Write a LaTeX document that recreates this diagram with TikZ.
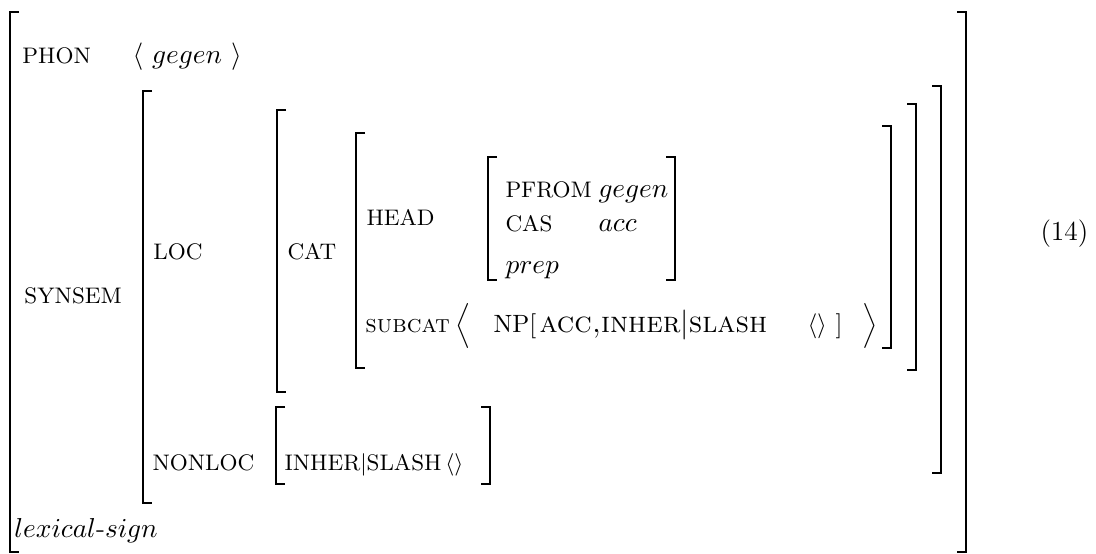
\documentclass[tikz,border=0pt]{standalone}
\usepackage{fontspec}
\begin{document}
\begin{tikzpicture}[x=0.4pt,y=-0.4pt,
  brk/.style={line width=0.8pt},
  lbl/.style={inner sep=0pt,anchor=base west},
  feat/.style={lbl,font=\fontsize{9}{11}\selectfont},
  val/.style={lbl,font=\fontsize{10.8}{13}\selectfont}]
\useasboundingbox (0,0) rectangle (1096,554);
\newcommand{\lbr}[3]{\draw[brk] (#1+9,#2) -- (#1,#2) -- (#1,#3) -- (#1+9,#3);}
\newcommand{\rbr}[3]{\draw[brk] (#1-9,#2) -- (#1,#2) -- (#1,#3) -- (#1-9,#3);}
% outer
\lbr{10}{12}{552}
\rbr{966}{12}{552}
% synsem value
\lbr{143}{91}{503}
\rbr{941}{86}{473}
% loc value
\lbr{277}{110}{392}
\rbr{916}{104}{370}
% cat value
\lbr{356}{133}{368}
\rbr{891}{126}{348}
% head value
\lbr{488}{157}{280}
\rbr{675}{157}{280}
% nonloc value
\lbr{276}{407}{484}
\rbr{490}{407}{484}
% texts
\node[feat] (phon) at (22,63) {PHON};
\node[val] (phonv) at (132,63) {$\langle\ gegen\ \rangle$};
\node[feat] (synsem) at (24,303) {SYNSEM};
\node[feat] (loc) at (153,259) {LOC};
\node[feat] (cat) at (287,259) {CAT};
\node[feat] (head) at (366,225) {HEAD};
\node[feat] (pform) at (505,197) {PFROM};
\node[val] (pformv) at (598,197) {$gegen$};
\node[feat] (cas) at (505,231) {CAS};
\node[val] (casv) at (598,231) {$acc$};
\node[val] (prep) at (505,273) {$prep$};
\node[lbl] (subcat) at (365,332) {\textsc{subcat}};
\node[lbl] (la) at (455,332) {$\Big\langle$};
\node[lbl] (np) at (493,332) {NP[};
\node[lbl,font=\fontsize{11.8}{14}\selectfont] (npf) at (539,332) {\textsc{acc,inher}$|$\textsc{slash}};
\node[lbl] (empty) at (807,332) {$\langle\rangle$};
\node[lbl] (rb) at (835,332) {]};
\node[lbl] (ra) at (862,332) {$\Big\rangle$};
\node[feat] (nonloc) at (152,470) {NONLOC};
\node[feat] (nlv) at (284,470) {INHER$|$SLASH\,$\langle\rangle$};
\node[lbl,font=\fontsize{11}{13}\selectfont] (sort) at (14,537) {$lexical\mbox{-}sign$};
\node[lbl,font=\fontsize{11}{13}\selectfont] (num) at (1040,240) {(14)};
\end{tikzpicture}
\end{document}
